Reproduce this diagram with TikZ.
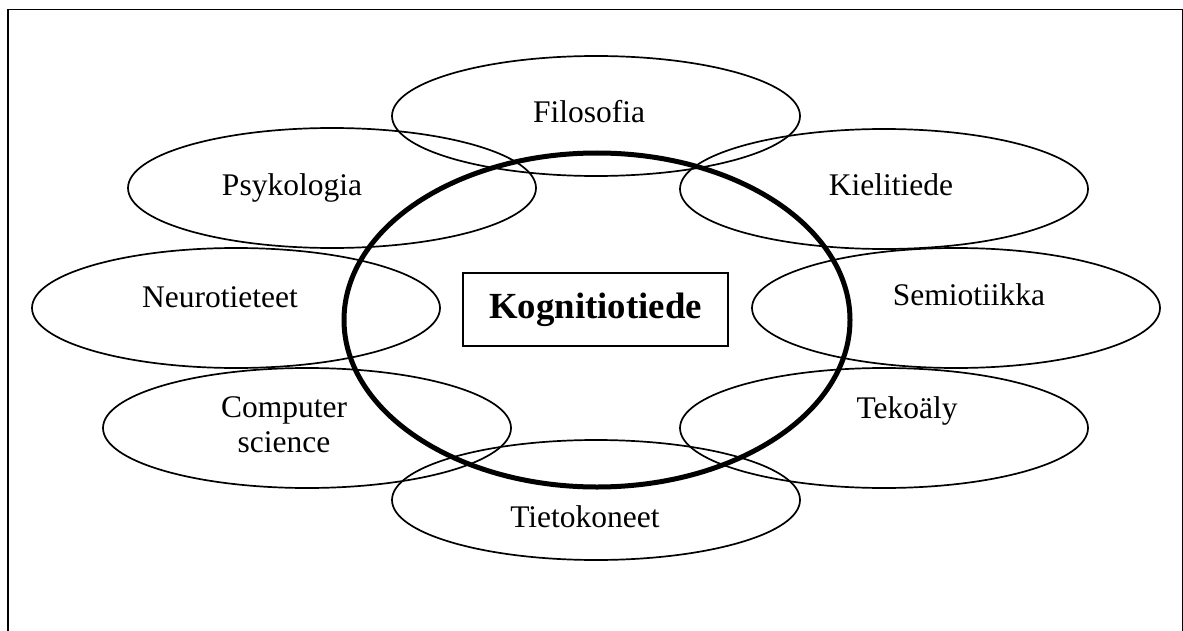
\documentclass[tikz,border=0pt]{standalone}
\usepackage{fontspec}
\setmainfont{Liberation Serif}
\usetikzlibrary{shapes.geometric, positioning}
\def\FieldFont{\fontsize{15.75pt}{17.5pt}\selectfont}
\def\CoreFont{\fontsize{18.4pt}{20pt}\selectfont\bfseries}

\begin{document}
\begin{tikzpicture}[x=0.5pt, y=-0.5pt,
     E/.style = {draw, ellipse, line width=0.85pt, minimum width=204pt, minimum height=60pt, inner sep=0pt},
     K/.style = {draw, ellipse, line width=2.5pt, minimum width=253pt, minimum height=167pt, inner sep=0pt},
     B/.style = {draw, line width=0.75pt, minimum width=132.5pt, minimum height=36.5pt, inner sep=0pt, font=\CoreFont},
     T/.style = {inner sep=0pt, anchor=base, font=\FieldFont, align=center}
%    every node/.append style = {outer sep=0pt}
                        ]
\useasboundingbox (0,0) rectangle (1183,631);
% frame
\coordinate (fbl) at (8,631);
\coordinate (ftl) at (8,9.5);
\coordinate (ftr) at (1183,9.5);
\coordinate (fbr) at (1183,631);
\draw[line width=0.65pt] (fbl) -- (ftl) -- (ftr) -- (fbr);

% fields round the core
\node[E] (filosofia)  at (596,116) {};
\node[E] (psykologia) at (332,188) {};
\node[E] (kielitiede) at (884,189) {};
\node[E] (neuro)      at (236,308) {};
\node[E] (semio)      at (956,308) {};
\node[E] (compsci)    at (307,428) {};
\node[E] (tekoaly)    at (884,428) {};
\node[E] (tietok)     at (596,500) {};

% core
\node[K] (core) at (597,320) {};
\node[B] (kogn) at (595.5,309.5) {Kognitiotiede};

% texts
\node[T] (filosofiaT)  at (589,123) {Filosofia};
\node[T] (psykologiaT) at (292,195) {Psykologia};
\node[T] (kielitiedeT) at (891,195) {Kielitiede};
\node[T] (neuroT)      at (220,307) {Neurotieteet};
\node[T] (semioT)      at (969,305) {Semiotiikka};
\node[T, anchor=center] (compsciT) at (284,425) {Computer\\science};
\node[T] (tekoalyT)    at (907,418) {Tekoäly};
\node[T] (tietokT)     at (585,527) {Tietokoneet};
\end{tikzpicture}
\end{document}
